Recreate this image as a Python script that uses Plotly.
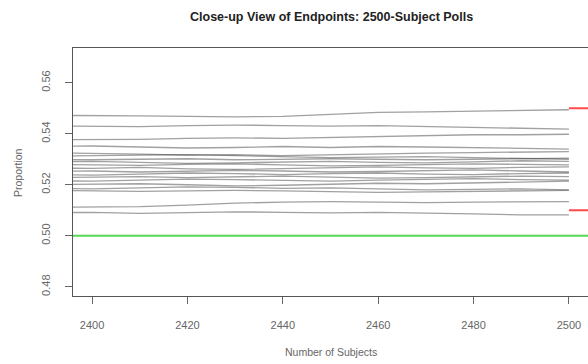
import plotly.graph_objects as go

# Data
x_points = [2390, 2400, 2410, 2420, 2430, 2440, 2450, 2460, 2470, 2480, 2490, 2500]
poll_paths = [
    [0.5472, 0.5472, 0.5470, 0.5468, 0.5466, 0.5468, 0.5476, 0.5484, 0.5486, 0.5488, 0.5490, 0.5494],
    [0.5430, 0.5430, 0.5428, 0.5432, 0.5434, 0.5432, 0.5430, 0.5432, 0.5428, 0.5424, 0.5420, 0.5418],
    [0.5376, 0.5376, 0.5378, 0.5382, 0.5384, 0.5382, 0.5386, 0.5388, 0.5392, 0.5396, 0.5396, 0.5398],
    [0.5350, 0.5352, 0.5348, 0.5344, 0.5346, 0.5350, 0.5346, 0.5350, 0.5348, 0.5346, 0.5342, 0.5340],
    [0.5326, 0.5324, 0.5320, 0.5316, 0.5318, 0.5314, 0.5318, 0.5322, 0.5324, 0.5326, 0.5328, 0.5330],
    [0.5312, 0.5314, 0.5316, 0.5318, 0.5314, 0.5310, 0.5306, 0.5308, 0.5310, 0.5306, 0.5302, 0.5300],
    [0.5300, 0.5298, 0.5300, 0.5302, 0.5298, 0.5300, 0.5302, 0.5300, 0.5298, 0.5300, 0.5302, 0.5304],
    [0.5290, 0.5292, 0.5288, 0.5284, 0.5286, 0.5290, 0.5292, 0.5288, 0.5286, 0.5290, 0.5294, 0.5292],
    [0.5280, 0.5278, 0.5276, 0.5280, 0.5282, 0.5278, 0.5274, 0.5276, 0.5280, 0.5282, 0.5280, 0.5278],
    [0.5266, 0.5264, 0.5268, 0.5262, 0.5260, 0.5264, 0.5268, 0.5270, 0.5266, 0.5264, 0.5268, 0.5270],
    [0.5252, 0.5254, 0.5250, 0.5252, 0.5256, 0.5254, 0.5250, 0.5252, 0.5256, 0.5258, 0.5254, 0.5250],
    [0.5240, 0.5238, 0.5242, 0.5246, 0.5244, 0.5240, 0.5244, 0.5246, 0.5242, 0.5240, 0.5244, 0.5246],
    [0.5228, 0.5230, 0.5232, 0.5228, 0.5230, 0.5234, 0.5230, 0.5226, 0.5228, 0.5232, 0.5234, 0.5232],
    [0.5216, 0.5214, 0.5218, 0.5222, 0.5220, 0.5216, 0.5214, 0.5218, 0.5222, 0.5224, 0.5220, 0.5218],
    [0.5200, 0.5202, 0.5204, 0.5200, 0.5196, 0.5198, 0.5202, 0.5206, 0.5204, 0.5208, 0.5212, 0.5214],
    [0.5186, 0.5184, 0.5188, 0.5192, 0.5190, 0.5186, 0.5188, 0.5184, 0.5180, 0.5182, 0.5184, 0.5180],
    [0.5178, 0.5176, 0.5174, 0.5176, 0.5178, 0.5176, 0.5172, 0.5170, 0.5172, 0.5174, 0.5176, 0.5178],
    [0.5112, 0.5112, 0.5114, 0.5120, 0.5128, 0.5132, 0.5134, 0.5132, 0.5130, 0.5132, 0.5134, 0.5134],
    [0.5090, 0.5092, 0.5088, 0.5090, 0.5094, 0.5092, 0.5090, 0.5092, 0.5090, 0.5086, 0.5082, 0.5082],
]
true_value = 0.50
bound_values = [0.55, 0.51]
bound_x = [2500, 2510]
x_ticks = [2400, 2420, 2440, 2460, 2480, 2500]
y_ticks = [0.48, 0.50, 0.52, 0.54, 0.56]
y_tick_labels = ["0.48", "0.50", "0.52", "0.54", "0.56"]

FONT = "Liberation Sans, Arial, sans-serif"

fig = go.Figure()
for path in poll_paths:
    fig.add_trace(go.Scatter(x=x_points, y=path, mode="lines",
                             line=dict(color="rgba(30,30,30,0.42)", width=1.3),
                             hoverinfo="skip", showlegend=False))

fig.add_trace(go.Scatter(x=[2380, 2520], y=[true_value, true_value], mode="lines",
                         line=dict(color="#55d855", width=2), showlegend=False))
for b in bound_values:
    fig.add_trace(go.Scatter(x=bound_x, y=[b, b], mode="lines",
                             line=dict(color="#ff4a4a", width=2), showlegend=False))

fig.update_layout(
    width=588, height=364,
    margin=dict(l=73, r=0, t=48, b=68),
    paper_bgcolor="white", plot_bgcolor="white",
    showlegend=False,
    font=dict(family=FONT, size=11, color="#555"),
)
fig.update_xaxes(range=[2396, 2504], tickvals=x_ticks, ticks="outside", ticklen=7,
                 tickcolor="#666", showgrid=False, zeroline=False,
                 showline=True, linecolor="#555", linewidth=1, mirror=True,
                 ticklabelstandoff=12, tickfont=dict(size=11, color="#666"))
fig.update_yaxes(range=[0.4764, 0.5736], tickvals=y_ticks, ticktext=y_tick_labels,
                 ticks="outside", ticklen=7, tickcolor="#666", tickangle=-90,
                 showgrid=False, zeroline=False, showline=True, linecolor="#555",
                 linewidth=1, ticklabelstandoff=11, tickfont=dict(size=11, color="#666"))

fig.add_annotation(text="<b>Close-up View of Endpoints: 2500-Subject Polls</b>",
                   xref="paper", yref="paper", x=(331 - 73) / 515, y=1 + (48 - 17) / 248,
                   showarrow=False, font=dict(family=FONT, size=12.5, color="#222"),
                   xanchor="center", yanchor="middle")
fig.add_annotation(text="Number of Subjects", xref="paper", yref="paper",
                   x=(331 - 73) / 515, y=-(352 - 296) / 248, showarrow=False,
                   font=dict(family=FONT, size=10.5, color="#666"),
                   xanchor="center", yanchor="middle")
fig.add_annotation(text="Proportion", xref="paper", yref="paper",
                   x=-(73 - 18) / 515, y=(296 - 173) / 248, showarrow=False, textangle=-90,
                   font=dict(family=FONT, size=10.5, color="#666"),
                   xanchor="center", yanchor="middle")

fig.write_html("out.html")
